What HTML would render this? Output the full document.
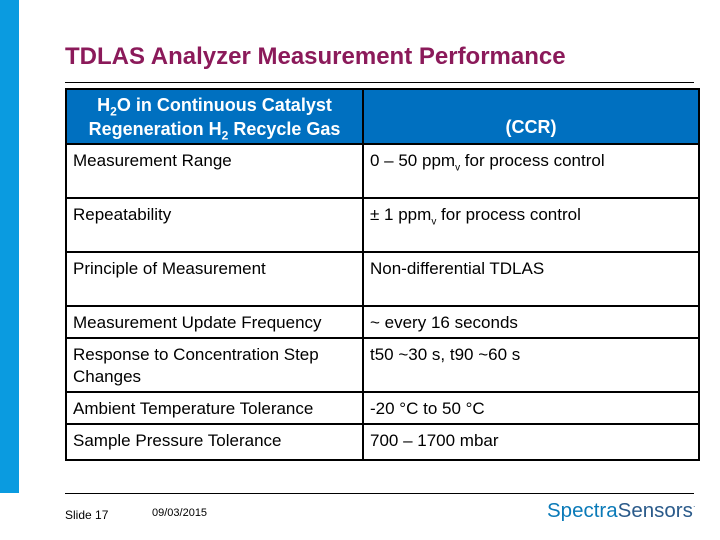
<!DOCTYPE html>
<html><head><meta charset="utf-8"><style>
body{margin:0;width:720px;height:540px;position:relative;background:#fff;font-family:"Liberation Sans",Arial,sans-serif;overflow:hidden}
.abs{position:absolute}
table{position:absolute;left:65px;top:88px;width:633px;border-collapse:collapse;table-layout:fixed}
td{border:2px solid #000;font-size:17px;color:#000;vertical-align:top;padding:5px 6px 0 6px;line-height:22px}
th{background:#0070c0;color:#fff;font-size:18px;font-weight:bold;border:2px solid #000;padding:2px 4px;line-height:24px}
sub{line-height:0}
</style></head><body>
<div class="abs" style="left:0;top:0;width:19px;height:493px;background:#0a9be0"></div>
<div class="abs" style="left:65px;top:43px;font-size:24px;color:#8b1a5a;font-weight:bold">TDLAS Analyzer Measurement Performance</div>
<div class="abs" style="left:65px;top:82px;width:629px;height:1px;background:#000"></div>
<table>
<colgroup><col style="width:297px"><col style="width:336px"></colgroup>
<tr style="height:55px"><th>H<sub style="font-size:12px">2</sub>O in Continuous Catalyst Regeneration H<sub style="font-size:12px">2</sub> Recycle Gas</th><th style="vertical-align:bottom;padding-bottom:4px">(CCR)</th></tr>
<tr style="height:54px"><td>Measurement Range</td><td>0 – 50 ppm<sub style="font-size:10px">v</sub> for process control</td></tr>
<tr style="height:54px"><td>Repeatability</td><td>± 1 ppm<sub style="font-size:10px">v</sub> for process control</td></tr>
<tr style="height:54px"><td>Principle of Measurement</td><td>Non-differential TDLAS</td></tr>
<tr style="height:32px"><td>Measurement Update Frequency</td><td>~ every 16 seconds</td></tr>
<tr style="height:54px"><td>Response to Concentration Step Changes</td><td>t50 ~30 s, t90 ~60 s</td></tr>
<tr style="height:32px"><td>Ambient Temperature Tolerance</td><td>-20 °C to 50 °C</td></tr>
<tr style="height:36px"><td>Sample Pressure Tolerance</td><td>700 – 1700 mbar</td></tr>
</table>
<div class="abs" style="left:65px;top:493px;width:629px;height:1px;background:#000"></div>
<div class="abs" style="left:65px;top:508px;font-size:12px">Slide 17</div>
<div class="abs" style="left:152px;top:507px;font-size:11px">09/03/2015</div>
<div class="abs" style="left:547px;top:499px;font-size:20.5px;color:#2a5a8a"><span style="color:#0a7ab8">Spectra</span>Sensors<sup style="font-size:8px">·</sup></div>
</body></html>
